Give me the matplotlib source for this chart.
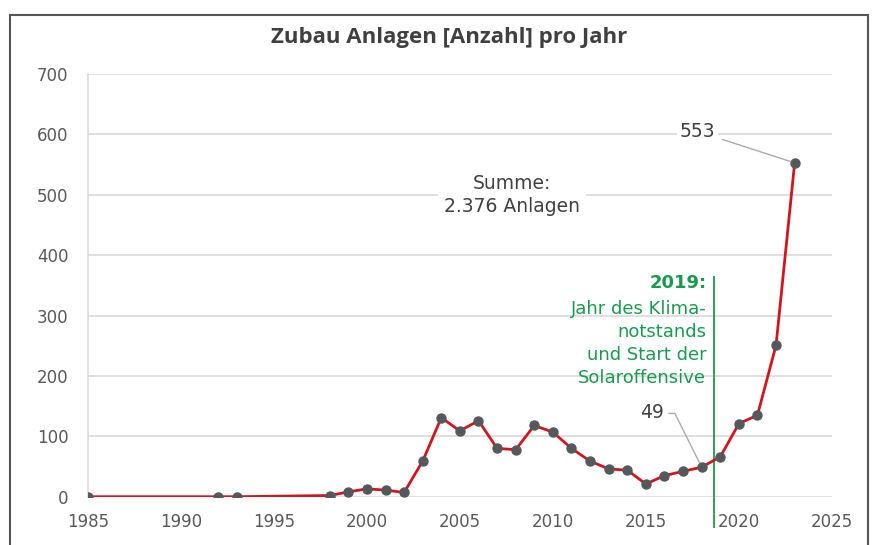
import matplotlib.pyplot as plt
from matplotlib.patches import Rectangle

# Zubau Anlagen pro Jahr
years = [1985, 1992, 1993, 1998, 1999, 2000, 2001, 2002, 2003, 2004, 2005, 2006,
         2007, 2008, 2009, 2010, 2011, 2012, 2013, 2014, 2015, 2016, 2017, 2018,
         2019, 2020, 2021, 2022, 2023]
anlagen = [0, 0, 0, 2, 8, 13, 11, 7, 59, 131, 109, 126,
           80, 78, 118, 107, 80, 59, 46, 44, 21, 35, 42, 49,
           66, 121, 135, 251, 553]
x_ticks = [1985, 1990, 1995, 2000, 2005, 2010, 2015, 2020, 2025]
y_ticks = [0, 100, 200, 300, 400, 500, 600, 700]
marker_year = 2018.66

plt.rcParams['font.family'] = ['DejaVu Sans']
grey = '#595959'
green = '#1a9a4f'

fig = plt.figure(figsize=(8.84, 5.45), dpi=100)
ax = fig.add_axes([0.0995, 0.0886, 0.8415, 0.7754])

# Rahmen
fig.patches.append(Rectangle((0.011, -0.05), 0.971, 1.023, transform=fig.transFigure,
                             fill=False, edgecolor='#555555', linewidth=1.5))

ax.plot(years, anlagen, color='#d0151f', linewidth=2, zorder=3)
ax.plot(years, anlagen, 'o', color='#56595c', markersize=6.5, zorder=4)

ax.set_xlim(1985, 2025)
ax.set_ylim(0, 700)
ax.set_xticks(x_ticks)
ax.set_yticks(y_ticks)
ax.yaxis.grid(True, color='#d9d9d9', linewidth=1.2)
ax.set_axisbelow(True)
for s in ['top', 'right', 'bottom']:
    ax.spines[s].set_visible(False)
ax.spines['left'].set_color('#d9d9d9')
ax.spines['left'].set_linewidth(1.2)
ax.tick_params(length=0, labelsize=12, labelcolor=grey, pad=12)
ax.tick_params(axis='y', pad=14)

fig.text(0.508, 0.932, 'Zubau Anlagen [Anzahl] pro Jahr', ha='center', va='center',
         fontsize=16, fontweight='bold', color='#404040', family=['Open Sans', 'DejaVu Sans'])

ax.text(2007.8, 500, 'Summe:\n2.376 Anlagen', ha='center', va='center', fontsize=13.5,
        color='#404040', linespacing=1.25,
        bbox=dict(facecolor='white', edgecolor='none', pad=4), zorder=5)

# Beschriftung 553 und 49
ax.annotate('553', xy=(years[-1], anlagen[-1]), xytext=(2018.75, 605), ha='right', va='center',
            fontsize=13.5, color='#404040',
            bbox=dict(facecolor='white', edgecolor='none', pad=2),
            arrowprops=dict(arrowstyle='-', color='#aaaaaa', lw=1, shrinkA=3, shrinkB=3), zorder=5)
ax.text(2015.97, 140, '49', ha='right', va='center', fontsize=13.5, color='#404040', zorder=5)
ax.plot([2016.24, 2016.56, 2018.0], [138, 138, 49], color='#aaaaaa', lw=1, zorder=2)

# 2019 Markierung
ax.plot([marker_year, marker_year], [364, -50], color=green, lw=1.3, clip_on=False, zorder=2)
ax.text(2018.25, 354, '2019:', ha='right', va='center', fontsize=13, color=green, fontweight='bold')
ax.text(2018.25, 254, 'Jahr des Klima-\nnotstands\nund Start der\nSolaroffensive', ha='right',
        va='center', fontsize=13, color=green, linespacing=1.35)

plt.savefig('out.png', dpi=100)
